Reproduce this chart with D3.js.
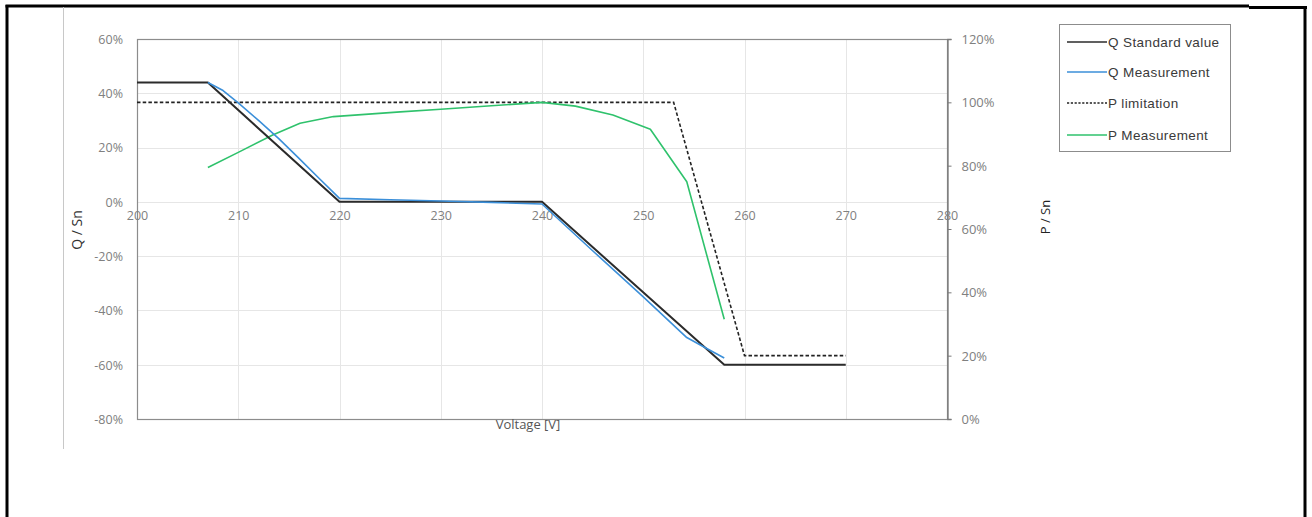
<!DOCTYPE html>
<html>
<head>
<meta charset="utf-8">
<script src="https://cdn.jsdelivr.net/npm/d3@7"></script>
<style>
  html, body { margin: 0; padding: 0; background: #fff; }
  svg { display: block; }
</style>
</head>
<body>
<svg id="chart" width="1312" height="517"></svg>
<script>
// ---------- data ----------
const xTicks = [200, 210, 220, 230, 240, 250, 260, 270, 280];
const leftTicks = [-80, -60, -40, -20, 0, 20, 40, 60];
const rightTicks = [0, 20, 40, 60, 80, 100, 120];

const qStdVoltage = [200, 207, 220, 240, 258, 270];
const qStdValue   = [44, 44, 0, 0, -60, -60];

const qMeasVoltage = [207, 208.5, 210, 212, 214, 216, 218, 220, 225, 230, 235, 240, 245, 250, 254.3, 256, 258];
const qMeasValue   = [44, 41, 36.5, 30, 23.3, 16, 8.6, 1.3, 0.8, 0.3, -0.2, -0.8, -18, -35, -50, -53.5, -57.5];

const pLimVoltage = [200, 253, 260, 270];
const pLimValue   = [100, 100, 20, 20];

const pMeasVoltage = [207, 210, 213.4, 216.1, 219.4, 226, 230, 235, 240, 243.3, 247, 250.7, 254.3, 258];
const pMeasValue   = [79.4, 84.2, 89.7, 93.4, 95.5, 97, 97.8, 98.9, 100, 98.8, 96, 91.5, 74.9, 31.5];

const legendLabels = ["Q Standard value", "Q Measurement", "P limitation", "P Measurement"];

// ---------- drawing ----------
const svg = d3.select("#chart");
const L = 137, R = 947, T = 39, B = 419;

const x = d3.scaleLinear().domain([200, 280]).range([L, R]);
const yL = d3.scaleLinear().domain([-80, 60]).range([B, T]);
const yR = d3.scaleLinear().domain([0, 120]).range([B, T]);

const tickFont = "'Open Sans', sans-serif";
const tickColor = "#808080";

// outer frame
svg.append("line").attr("x1", 7).attr("x2", 7).attr("y1", 5).attr("y2", 517)
  .attr("stroke", "#000").attr("stroke-width", 3);
svg.append("line").attr("x1", 5.5).attr("x2", 1249).attr("y1", 6).attr("y2", 6)
  .attr("stroke", "#000").attr("stroke-width", 3);
svg.append("line").attr("x1", 1249).attr("x2", 1307).attr("y1", 7.5).attr("y2", 7.5)
  .attr("stroke", "#000").attr("stroke-width", 3);
svg.append("line").attr("x1", 1305).attr("x2", 1305).attr("y1", 6).attr("y2", 517)
  .attr("stroke", "#000").attr("stroke-width", 3);
// inner thin grey line at left
svg.append("line").attr("x1", 63.5).attr("x2", 63.5).attr("y1", 7).attr("y2", 449)
  .attr("stroke", "#c8c8c8").attr("stroke-width", 1);

// gridlines
svg.append("g").selectAll("line").data(xTicks.slice(1, -1)).join("line")
  .attr("x1", d => Math.round(x(d)) + 0.5).attr("x2", d => Math.round(x(d)) + 0.5)
  .attr("y1", T).attr("y2", B)
  .attr("stroke", "#e6e6e6").attr("stroke-width", 1);
svg.append("g").selectAll("line").data(leftTicks.slice(1, -1)).join("line")
  .attr("x1", L).attr("x2", R)
  .attr("y1", d => Math.round(yL(d)) + 0.5).attr("y2", d => Math.round(yL(d)) + 0.5)
  .attr("stroke", "#e6e6e6").attr("stroke-width", 1);

// plot border
svg.append("rect").attr("x", L + 0.5).attr("y", T + 0.5)
  .attr("width", R - L).attr("height", B - T)
  .attr("fill", "none").attr("stroke", "#8c8c8c").attr("stroke-width", 1.2);

// right axis with ticks
const rightAxis = d3.axisRight(yR).tickValues(rightTicks).tickSize(4).tickFormat(d => d + "%");
const gR = svg.append("g").attr("transform", `translate(${R + 0.5},0)`).call(rightAxis);
gR.select(".domain").attr("stroke", "#7a7a7a").attr("stroke-width", 1.3);
gR.selectAll(".tick line").attr("stroke", "#7a7a7a");
gR.selectAll(".tick text")
  .attr("x", 14).attr("dy", "0.35em")
  .style("font-family", tickFont).style("font-size", "13px").attr("fill", tickColor);

// left axis labels
const leftAxis = d3.axisLeft(yL).tickValues(leftTicks).tickSize(0).tickFormat(d => d + "%");
const gL = svg.append("g").attr("transform", `translate(${L},0)`).call(leftAxis);
gL.select(".domain").remove();
gL.selectAll(".tick text")
  .attr("x", -14).attr("dy", "0.35em")
  .style("font-family", tickFont).style("font-size", "12.5px").attr("fill", tickColor);

// x-axis labels along the zero line
const xAxis = d3.axisBottom(x).tickValues(xTicks).tickSize(0).tickFormat(d3.format("d"));
const gX = svg.append("g").attr("transform", `translate(0,${yL(0)})`).call(xAxis);
gX.select(".domain").remove();
gX.selectAll(".tick text")
  .attr("y", 14).attr("dy", "0.35em")
  .style("font-family", tickFont).style("font-size", "12.5px").attr("fill", tickColor);

// axis titles
svg.append("text").attr("transform", "translate(82,230) rotate(-90)")
  .attr("text-anchor", "middle")
  .style("font-family", tickFont).style("font-size", "14px").attr("fill", "#333")
  .text("Q / Sn");
svg.append("text").attr("transform", "translate(1050,217) rotate(-90)")
  .attr("text-anchor", "middle")
  .style("font-family", tickFont).style("font-size", "13px").attr("fill", "#222")
  .text("P / Sn");
svg.append("text").attr("x", 528).attr("y", 429)
  .attr("text-anchor", "middle")
  .style("font-family", tickFont).style("font-size", "13px").attr("fill", "#555")
  .text("Voltage [V]");

// lines
const zip = (a, b) => a.map((v, i) => [v, b[i]]);
const lineL = d3.line().x(d => x(d[0])).y(d => yL(d[1]));
const lineR = d3.line().x(d => x(d[0])).y(d => yR(d[1]));

const colors = { std: "#2b2b2b", qm: "#3b8fd9", plim: "#222", pm: "#2fc26c" };

svg.append("path").datum(zip(pLimVoltage, pLimValue)).attr("d", lineR)
  .attr("fill", "none").attr("stroke", colors.plim).attr("stroke-width", 1.6)
  .attr("stroke-dasharray", "3.5,2.2");
svg.append("path").datum(zip(pMeasVoltage, pMeasValue)).attr("d", lineR)
  .attr("fill", "none").attr("stroke", colors.pm).attr("stroke-width", 1.6)
  .attr("stroke-linejoin", "round");
svg.append("path").datum(zip(qStdVoltage, qStdValue)).attr("d", lineL)
  .attr("fill", "none").attr("stroke", colors.std).attr("stroke-width", 2)
  .attr("stroke-linejoin", "round");
svg.append("path").datum(zip(qMeasVoltage, qMeasValue)).attr("d", lineL)
  .attr("fill", "none").attr("stroke", colors.qm).attr("stroke-width", 1.6)
  .attr("stroke-linejoin", "round");

// legend
const lg = svg.append("g");
lg.append("rect").attr("x", 1059.5).attr("y", 24.5).attr("width", 171).attr("height", 127)
  .attr("fill", "#fff").attr("stroke", "#8c8c8c").attr("stroke-width", 1);
const legendStyles = [
  { c: colors.std, w: 1.6, dash: null },
  { c: colors.qm, w: 1.4, dash: null },
  { c: colors.plim, w: 1.4, dash: "2.2,1.6" },
  { c: colors.pm, w: 1.4, dash: null }
];
const rowY = [42, 72, 103, 135];
legendLabels.forEach((lab, i) => {
  const s = legendStyles[i];
  lg.append("line").attr("x1", 1067).attr("x2", 1107).attr("y1", rowY[i]).attr("y2", rowY[i])
    .attr("stroke", s.c).attr("stroke-width", s.w)
    .attr("stroke-dasharray", s.dash);
  lg.append("text").attr("x", 1108).attr("y", rowY[i]).attr("dy", "0.35em")
    .style("font-family", "'Liberation Sans', Arial, sans-serif").style("font-size", "13.5px")
    .style("letter-spacing", "0.4px")
    .attr("fill", "#3a3a3a").text(lab);
});
</script>
</body>
</html>
